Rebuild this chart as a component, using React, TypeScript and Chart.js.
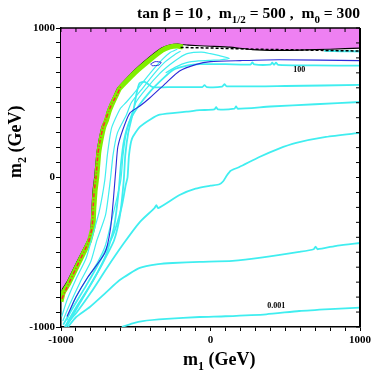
import React, { useEffect, useRef } from 'react';
import { Chart, registerables } from 'chart.js';
Chart.register(...registerables);

type P = [number, number];

// ---- data (m1, m2) in GeV ----
const xRange: P = [-1000, 1000];
const yRange: P = [-1000, 1000];
const tickStep = 100;
const labeledTicks = [-1000, 0, 1000];

const excludedBoundary: P[] = [
  [-1000, -800], [-990, -745], [-960, -700], [-887, -552], [-820, -420], [-800, -360],
  [-793, -220], [-787, -100], [-775, 0], [-760, 160], [-745, 250], [-725, 340], [-707, 380],
  [-690, 440], [-673, 485], [-645, 545], [-620, 599], [-520, 706], [-407, 806], [-327, 866],
  [-273, 886], [-220, 893], [-150, 885], [0, 878], [130, 872], [280, 855], [450, 850],
  [600, 852], [800, 858], [1000, 865],
];

const greenBand: P[] = [
  [-1000, -830], [-985, -770], [-950, -712], [-880, -568], [-810, -425], [-786, -330],
  [-780, -200], [-772, -90], [-761, 0], [-748, 160], [-733, 250], [-713, 340], [-696, 382],
  [-679, 440], [-661, 485], [-633, 545], [-607, 597], [-507, 700], [-397, 794], [-322, 852],
  [-270, 874], [-225, 880], [-185, 874],
];

const redDashDot: P[] = [
  [-994, -812], [-966, -748], [-886, -578], [-816, -432], [-791, -330], [-785, -200],
  [-778, -90], [-766, 0], [-753, 160], [-738, 250], [-718, 340], [-701, 388], [-682, 440],
  [-657, 500], [-622, 560], [-598, 615],
];

const blueLine: P[] = [
  [-960, -930], [-900, -800], [-820, -666], [-707, -505], [-670, -350], [-650, -150],
  [-632, 70], [-620, 204], [-587, 318], [-540, 431], [-470, 480], [-407, 532], [-300, 630],
  [-207, 712], [-100, 755], [0, 775], [200, 782], [460, 788], [1000, 782],
];

const blueLoop: P[] = [
  [-400, 760], [-370, 775], [-330, 770], [-345, 752], [-390, 748], [-400, 760],
];

const contour0001: P[] = [
  [-593, -1000], [-520, -975], [-453, -960], [-293, -946], [-73, -933], [100, -928],
  [373, -915], [593, -893], [800, -880], [1000, -870],
];

const contour2: P[] = [
  [-953, -1000], [-900, -935], [-807, -866], [-700, -770], [-607, -686], [-473, -605],
  [-350, -580], [-253, -572], [-73, -565], [147, -558], [350, -535], [593, -498],
  [690, -480], [703, -462], [716, -480], [850, -455], [1000, -438],
];

const contour3: P[] = [
  [-945, -960], [-893, -900], [-800, -770], [-693, -605], [-580, -440], [-473, -298],
  [-375, -205], [-362, -185], [-350, -205], [-207, -117], [-100, -75], [0, -55],
  [60, -45], [85, -25], [107, 10], [135, 45], [193, 70], [327, 137], [450, 190],
  [573, 231], [773, 271], [1000, 298],
];

const contour4: P[] = [
  [-985, -985], [-920, -870], [-830, -720], [-740, -560], [-650, -380], [-595, -200],
  [-567, -50], [-555, 0], [-545, 150], [-525, 260], [-473, 338], [-400, 390], [-340, 420],
  [-160, 440], [-73, 450], [25, 455], [38, 470], [50, 455], [160, 460], [171, 475],
  [182, 460], [400, 475], [700, 490], [1000, 505],
];

const contour5: P[] = [
  [-975, -1000], [-905, -880], [-805, -720], [-725, -580], [-645, -420], [-605, -250],
  [-580, -17], [-570, 150], [-550, 300], [-515, 450], [-495, 560], [-475, 630], [-440, 640],
  [-387, 605], [-253, 605], [-55, 605], [-40, 618], [-25, 605], [78, 608], [93, 624],
  [108, 610], [500, 612], [1000, 619],
];

const contour100: P[] = [
  [-965, -1000], [-880, -850], [-780, -680], [-700, -520], [-645, -330], [-615, -100],
  [-598, 100], [-578, 250], [-540, 380], [-480, 480], [-400, 580], [-320, 660], [-250, 720],
  [-150, 750], [-73, 758], [100, 758], [268, 756], [280, 770], [292, 756], [402, 755],
  [413, 768], [425, 754], [438, 768], [452, 754], [700, 750], [1000, 748],
];

const bandA: P[] = [
  [-995, -930], [-960, -820], [-900, -680], [-832, -540], [-792, -400], [-745, -230],
  [-707, -17], [-690, 150], [-662, 330], [-604, 460], [-562, 505], [-482, 600],
  [-402, 700], [-322, 790], [-272, 835], [-222, 858],
];

const bandB: P[] = [
  [-988, -960], [-942, -850], [-872, -700], [-800, -560], [-760, -420], [-702, -250],
  [-670, -17], [-652, 150], [-622, 300], [-562, 420], [-530, 500], [-452, 600],
  [-372, 700], [-302, 775], [-242, 820], [-200, 845],
];

const arrowLoop: P[] = [
  [-960, -955], [-912, -825], [-835, -690], [-760, -575], [-705, -460], [-655, -260],
  [-600, -17], [-585, 150], [-563, 300], [-500, 500], [-425, 600], [-345, 690],
  [-275, 752], [-210, 800], [-150, 830], [-60, 838], [0, 828], [60, 815], [127, 797],
  [60, 786], [0, 784], [-80, 780], [-160, 768], [-230, 740], [-300, 700],
];

const topCyan: P[] = [[760, 847], [880, 845], [1000, 843]];

const dashedLine: P[] = [[-200, 870], [0, 866], [300, 858], [600, 853], [1000, 846]];

const contourLabels: { text: string; at: P }[] = [
  { text: '100', at: [593, 719] },
  { text: '0.001', at: [440, -860] },
];

// ---- styles ----
const MAGENTA = '#ee80f2';
const CYAN = '#40eef0';
const BLUE = '#2a2ad8';
const GREEN = '#80ee00';
const RED = '#ff2a2a';
const SERIF = '"Liberation Serif", "DejaVu Serif", "Times New Roman", serif';

type Part = { t: string; sub?: boolean };
function drawRich(ctx: CanvasRenderingContext2D, parts: Part[], x: number, y: number, size: number, align: 'left' | 'right') {
  const sub = Math.round(size * 0.68);
  let total = 0;
  const widths = parts.map((p) => {
    ctx.font = `bold ${p.sub ? sub : size}px ${SERIF}`;
    const w = ctx.measureText(p.t).width;
    total += w;
    return w;
  });
  let cx = align === 'right' ? x - total : x;
  ctx.textAlign = 'left';
  ctx.textBaseline = 'alphabetic';
  parts.forEach((p, i) => {
    ctx.font = `bold ${p.sub ? sub : size}px ${SERIF}`;
    ctx.fillText(p.t, cx, y + (p.sub ? size * 0.3 : 0));
    cx += widths[i];
  });
}

const decorPlugin = {
  id: 'decor',
  afterDraw(chart: any) {
    const ctx: CanvasRenderingContext2D = chart.ctx;
    const xs = chart.scales.x;
    const ys = chart.scales.y;
    const { left, right, top, bottom } = chart.chartArea;
    ctx.save();
    ctx.strokeStyle = '#000';
    ctx.fillStyle = '#000';
    // top & right frame
    ctx.lineWidth = 1.5;
    ctx.beginPath();
    ctx.moveTo(left, top);
    ctx.lineTo(right, top);
    ctx.stroke();
    ctx.lineWidth = 2;
    ctx.beginPath();
    ctx.moveTo(right, top);
    ctx.lineTo(right, bottom);
    ctx.stroke();
    // inward ticks on top & right
    ctx.lineWidth = 1;
    for (let v = xRange[0]; v <= xRange[1]; v += tickStep) {
      const px = xs.getPixelForValue(v);
      ctx.beginPath();
      ctx.moveTo(px, top);
      ctx.lineTo(px, top + 4);
      ctx.stroke();
    }
    for (let v = yRange[0]; v <= yRange[1]; v += tickStep) {
      const py = ys.getPixelForValue(v);
      ctx.beginPath();
      ctx.moveTo(right, py);
      ctx.lineTo(right - 4, py);
      ctx.stroke();
    }
    // contour labels
    ctx.font = `bold 8px ${SERIF}`;
    ctx.textAlign = 'center';
    ctx.textBaseline = 'middle';
    contourLabels.forEach((l) => {
      ctx.fillText(l.text, xs.getPixelForValue(l.at[0]), ys.getPixelForValue(l.at[1]));
    });
    // title
    drawRich(ctx, [
      { t: 'tan β = 10 ,  m' }, { t: '1/2', sub: true }, { t: ' = 500 ,  m' }, { t: '0', sub: true }, { t: ' = 300' },
    ], right, 18, 15.6, 'right');
    // x title
    drawRich(ctx, [{ t: 'm' }, { t: '1', sub: true }, { t: ' (GeV)' }], 183, 365, 18, 'left');
    // y title
    ctx.translate(21, 178);
    ctx.rotate(-Math.PI / 2);
    drawRich(ctx, [{ t: 'm' }, { t: '2', sub: true }, { t: ' (GeV)' }], 0, 0, 18, 'left');
    ctx.restore();
  },
};

const toXY = (pts: P[]) => pts.map(([x, y]) => ({ x, y }));
const line = (pts: P[], color: string, width: number, order: number, extra: any = {}) => ({
  data: toXY(pts),
  showLine: true,
  borderColor: color,
  backgroundColor: color,
  borderWidth: width,
  pointRadius: 0,
  fill: false,
  tension: 0.2,
  order,
  ...extra,
});

export default function App() {
  const ref = useRef<HTMLCanvasElement>(null);
  useEffect(() => {
    document.body.style.margin = '0';
    const canvas = ref.current!;
    const chart = new Chart(canvas, {
      type: 'scatter',
      data: {
        datasets: [
          line(excludedBoundary, '#000', 1.2, 20, { fill: 'end', backgroundColor: MAGENTA, tension: 0.1 }),
          line(greenBand, GREEN, 5, 19, { tension: 0.1 }),
          line(bandA, CYAN, 1.2, 10),
          line(bandB, CYAN, 1.2, 10),
          line(arrowLoop, CYAN, 1.2, 10),
          line(contour5, CYAN, 1.8, 9),
          line(contour4, CYAN, 1.8, 9),
          line(contour3, CYAN, 1.8, 9),
          line(contour2, CYAN, 1.8, 9),
          line(contour0001, CYAN, 1.8, 9),
          line(contour100, CYAN, 1.8, 9),
          line(topCyan, CYAN, 2, 9),
          line(blueLine, BLUE, 1.1, 5),
          line(blueLoop, BLUE, 1, 5),
          line(redDashDot, RED, 1.5, 3, { borderDash: [4, 2, 1, 2], tension: 0.1 }),
          line(dashedLine, '#000', 1.5, 2, { borderDash: [3, 2], tension: 0 }),
        ],
      },
      options: {
        responsive: false,
        animation: false,
        events: [],
        layout: { padding: { top: 28, right: 13, left: 0, bottom: 0 } },
        plugins: { legend: { display: false }, tooltip: { enabled: false } },
        scales: {
          x: {
            type: 'linear',
            min: xRange[0],
            max: xRange[1],
            afterFit: (s: any) => { s.height = 53; },
            border: { color: '#000', width: 1.5 },
            grid: { drawOnChartArea: false, drawTicks: true, tickLength: 4, color: '#000', tickColor: '#000' },
            ticks: {
              stepSize: tickStep,
              autoSkip: false,
              maxRotation: 0,
              padding: 3,
              color: '#000',
              font: { family: SERIF, size: 11, weight: 'bold' },
              callback: (v: any) => (labeledTicks.includes(Number(v)) ? String(v) : ''),
            },
          },
          y: {
            type: 'linear',
            min: yRange[0],
            max: yRange[1],
            afterFit: (s: any) => { s.width = 61; },
            border: { color: '#000', width: 1.5 },
            grid: { drawOnChartArea: false, drawTicks: true, tickLength: 5, color: '#000', tickColor: '#000' },
            ticks: {
              stepSize: tickStep,
              autoSkip: false,
              padding: 1,
              color: '#000',
              font: { family: SERIF, size: 11, weight: 'bold' },
              callback: (v: any) => (labeledTicks.includes(Number(v)) ? String(v) : ''),
            },
          },
        },
      } as any,
      plugins: [decorPlugin],
    });
    return () => chart.destroy();
  }, []);
  return (
    <div style={{ width: 374, height: 380 }}>
      <canvas ref={ref} width={374} height={380} />
    </div>
  );
}
